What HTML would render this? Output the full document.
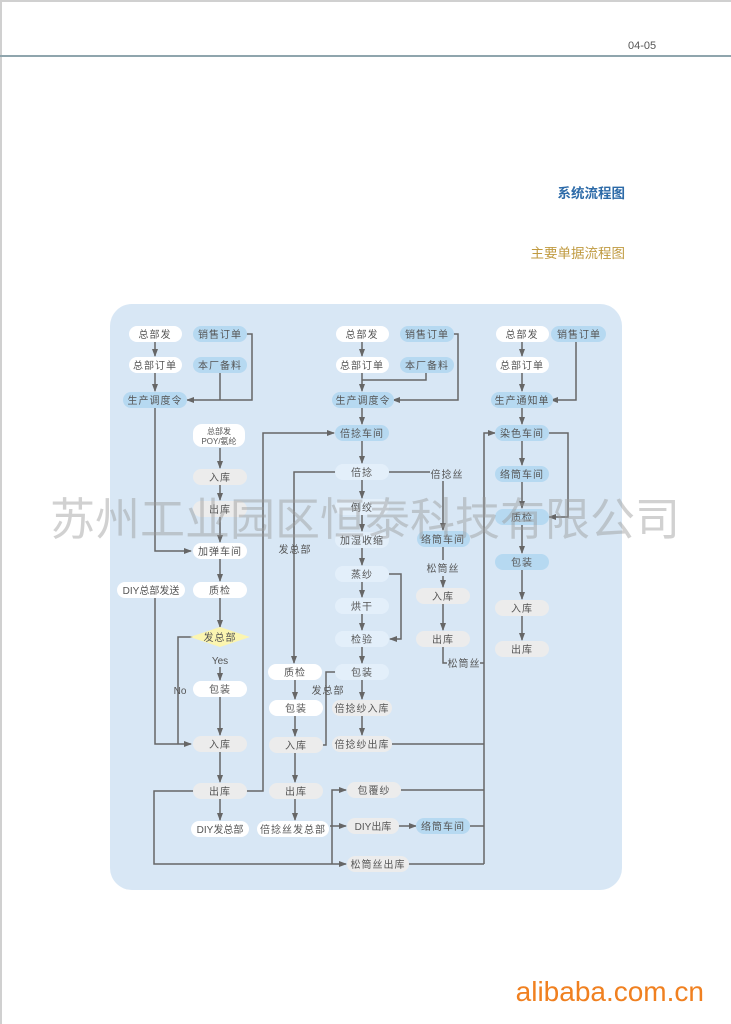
<!DOCTYPE html>
<html><head><meta charset="utf-8"><style>
html,body{margin:0;padding:0;background:#fff;width:731px;height:1024px;overflow:hidden}
svg{display:block}
text{font-family:"Liberation Sans","Noto Sans CJK SC",sans-serif}
</style></head><body>
<svg width="731" height="1024" viewBox="0 0 731 1024" xmlns="http://www.w3.org/2000/svg">
<defs>
<marker id="a" markerWidth="8" markerHeight="6" refX="7" refY="3" orient="auto" markerUnits="userSpaceOnUse"><path d="M0,0 L8,3 L0,6 z" fill="#666"/></marker>
</defs>
<rect x="0" y="0" width="731" height="2" fill="#d0d0d0"/>
<rect x="0" y="0" width="2" height="1024" fill="#d0d0d0"/>
<rect x="0" y="55" width="731" height="2" fill="#8fa5ad"/>
<text x="628" y="49" font-size="11" fill="#555">04-05</text>
<text x="625" y="198" font-size="13.5" font-weight="bold" fill="#2c6aa8" text-anchor="end">系统流程图</text>
<text x="625" y="258" font-size="13.5" fill="#c09a40" text-anchor="end">主要单据流程图</text>
<text x="704" y="1001" font-size="28" fill="#f08020" text-anchor="end">alibaba.com.cn</text>

<rect x="110" y="304" width="512" height="586" rx="22" fill="#d8e7f5"/>

<g stroke="#666" stroke-width="1.5" fill="none">
<line x1="155" y1="342" x2="155" y2="356" marker-end="url(#a)"/>
<line x1="155" y1="373" x2="155" y2="391" marker-end="url(#a)"/>
<polyline points="246,334 252,334 252,400 187,400" marker-end="url(#a)"/>
<line x1="220" y1="373" x2="220" y2="400"/>
<polyline points="155,408 155,551 191,551" marker-end="url(#a)"/>
<line x1="220" y1="448" x2="220" y2="468" marker-end="url(#a)"/>
<line x1="220" y1="485" x2="220" y2="500" marker-end="url(#a)"/>
<line x1="220" y1="517" x2="220" y2="542" marker-end="url(#a)"/>
<line x1="220" y1="559" x2="220" y2="581" marker-end="url(#a)"/>
<line x1="220" y1="598" x2="220" y2="627" marker-end="url(#a)"/>
<line x1="220" y1="667" x2="220" y2="680" marker-end="url(#a)"/>
<line x1="220" y1="697" x2="220" y2="735" marker-end="url(#a)"/>
<line x1="220" y1="752" x2="220" y2="782" marker-end="url(#a)"/>
<line x1="220" y1="799" x2="220" y2="820" marker-end="url(#a)"/>
<polyline points="155,598 155,744 191,744" marker-end="url(#a)"/>
<polyline points="193,637 178,637 178,744"/>
<polyline points="246,791 263,791 263,433 334,433" marker-end="url(#a)"/>
<polyline points="194,791 154,791 154,864 346,864" marker-end="url(#a)"/>
<polyline points="336,472 294,472 294,663" marker-end="url(#a)"/>
<line x1="295" y1="680" x2="295" y2="699" marker-end="url(#a)"/>
<line x1="295" y1="716" x2="295" y2="736" marker-end="url(#a)"/>
<line x1="295" y1="753" x2="295" y2="782" marker-end="url(#a)"/>
<line x1="295" y1="799" x2="295" y2="820" marker-end="url(#a)"/>
<polyline points="336,672 326,672 326,745 322,745"/>
<polyline points="332,864 332,790 346,790" marker-end="url(#a)"/>
<line x1="330" y1="826" x2="346" y2="826" marker-end="url(#a)"/>
<line x1="362" y1="342" x2="362" y2="356" marker-end="url(#a)"/>
<line x1="362" y1="373" x2="362" y2="391" marker-end="url(#a)"/>
<polyline points="426,373 426,380 362,380"/>
<polyline points="452,334 458,334 458,400 393,400" marker-end="url(#a)"/>
<line x1="362" y1="408" x2="362" y2="424" marker-end="url(#a)"/>
<line x1="362" y1="441" x2="362" y2="463" marker-end="url(#a)"/>
<line x1="362" y1="480" x2="362" y2="498" marker-end="url(#a)"/>
<line x1="362" y1="515" x2="362" y2="531" marker-end="url(#a)"/>
<line x1="362" y1="548" x2="362" y2="565" marker-end="url(#a)"/>
<line x1="362" y1="582" x2="362" y2="597" marker-end="url(#a)"/>
<line x1="362" y1="614" x2="362" y2="630" marker-end="url(#a)"/>
<line x1="362" y1="647" x2="362" y2="663" marker-end="url(#a)"/>
<line x1="362" y1="680" x2="362" y2="699" marker-end="url(#a)"/>
<line x1="362" y1="716" x2="362" y2="735" marker-end="url(#a)"/>
<polyline points="389,574 401,574 401,639 390,639" marker-end="url(#a)"/>
<line x1="389" y1="472" x2="430" y2="472"/>
<line x1="443" y1="481" x2="443" y2="530" marker-end="url(#a)"/>
<line x1="443" y1="547" x2="443" y2="560"/>
<line x1="443" y1="576" x2="443" y2="587" marker-end="url(#a)"/>
<line x1="443" y1="604" x2="443" y2="630" marker-end="url(#a)"/>
<polyline points="443,647 443,663 447,663"/>
<line x1="480" y1="663" x2="484" y2="663"/>
<line x1="392" y1="744" x2="484" y2="744"/>
<line x1="400" y1="790" x2="484" y2="790"/>
<line x1="396" y1="826" x2="416" y2="826" marker-end="url(#a)"/>
<line x1="470" y1="826" x2="484" y2="826"/>
<line x1="408" y1="864" x2="484" y2="864"/>
<polyline points="484,864 484,433 495,433" marker-end="url(#a)"/>
<line x1="522" y1="342" x2="522" y2="356" marker-end="url(#a)"/>
<line x1="522" y1="373" x2="522" y2="391" marker-end="url(#a)"/>
<polyline points="576,342 576,400 551,400" marker-end="url(#a)"/>
<line x1="522" y1="408" x2="522" y2="424" marker-end="url(#a)"/>
<line x1="522" y1="441" x2="522" y2="465" marker-end="url(#a)"/>
<line x1="522" y1="482" x2="522" y2="508" marker-end="url(#a)"/>
<polyline points="548,433 568,433 568,517 549,517" marker-end="url(#a)"/>
<line x1="522" y1="525" x2="522" y2="553" marker-end="url(#a)"/>
<line x1="522" y1="570" x2="522" y2="599" marker-end="url(#a)"/>
<line x1="522" y1="616" x2="522" y2="640" marker-end="url(#a)"/>
</g>

<g font-size="10" text-anchor="middle" fill="#555" letter-spacing="1">
<g fill="#fff"><rect x="129" y="326" width="53" height="16" rx="8"/><rect x="129" y="357" width="53" height="16" rx="8"/>
<rect x="193" y="424" width="52" height="23" rx="9"/><rect x="193" y="543" width="54" height="16" rx="8"/>
<rect x="117" y="582" width="68" height="16" rx="8"/><rect x="193" y="582" width="54" height="16" rx="8"/>
<rect x="193" y="681" width="54" height="16" rx="8"/><rect x="191" y="821" width="58" height="16" rx="8"/>
<rect x="268" y="664" width="54" height="16" rx="8"/><rect x="269" y="700" width="54" height="16" rx="8"/>
<rect x="257" y="821" width="72" height="16" rx="8"/>
<rect x="336" y="326" width="53" height="16" rx="8"/><rect x="336" y="357" width="53" height="16" rx="8"/>
<rect x="496" y="326" width="53" height="16" rx="8"/><rect x="496" y="357" width="53" height="16" rx="8"/></g>
<g fill="#b6d9f1"><rect x="193" y="326" width="54" height="16" rx="8"/><rect x="193" y="357" width="54" height="16" rx="8"/>
<rect x="123" y="392" width="64" height="16" rx="8"/>
<rect x="400" y="326" width="54" height="16" rx="8"/><rect x="400" y="357" width="54" height="16" rx="8"/>
<rect x="332" y="392" width="62" height="16" rx="8"/><rect x="335" y="425" width="54" height="16" rx="8"/>
<rect x="417" y="531" width="53" height="16" rx="8"/><rect x="416" y="818" width="54" height="16" rx="8"/>
<rect x="551" y="326" width="55" height="16" rx="8"/><rect x="491" y="392" width="62" height="16" rx="8"/>
<rect x="495" y="425" width="54" height="16" rx="8"/><rect x="495" y="466" width="54" height="16" rx="8"/>
<rect x="495" y="509" width="54" height="16" rx="8"/><rect x="495" y="554" width="54" height="16" rx="8"/></g>
<g fill="#e3effa"><rect x="335" y="464" width="54" height="16" rx="8"/><rect x="335" y="499" width="54" height="16" rx="8"/>
<rect x="335" y="532" width="54" height="16" rx="8"/><rect x="335" y="566" width="54" height="16" rx="8"/>
<rect x="335" y="598" width="54" height="16" rx="8"/><rect x="335" y="631" width="54" height="16" rx="8"/>
<rect x="335" y="664" width="54" height="16" rx="8"/></g>
<g fill="#ececec"><rect x="193" y="469" width="54" height="16" rx="8"/><rect x="193" y="501" width="54" height="16" rx="8"/>
<rect x="193" y="736" width="54" height="16" rx="8"/><rect x="193" y="783" width="54" height="16" rx="8"/>
<rect x="269" y="737" width="54" height="16" rx="8"/><rect x="269" y="783" width="54" height="16" rx="8"/>
<rect x="332" y="700" width="60" height="16" rx="8"/><rect x="332" y="736" width="60" height="16" rx="8"/>
<rect x="347" y="782" width="54" height="16" rx="8"/><rect x="347" y="818" width="52" height="16" rx="8"/>
<rect x="347" y="856" width="62" height="16" rx="8"/>
<rect x="416" y="588" width="54" height="16" rx="8"/><rect x="416" y="631" width="54" height="16" rx="8"/>
<rect x="495" y="600" width="54" height="16" rx="8"/><rect x="495" y="641" width="54" height="16" rx="8"/></g>
<polygon points="220,627 250,637 220,647 190,637" fill="#fbf5b0"/>

<text x="155" y="338">总部发</text><text x="220" y="338">销售订单</text>
<text x="155" y="369">总部订单</text><text x="220" y="369">本厂备料</text>
<text x="155" y="404">生产调度令</text>
<text x="219" y="434" font-size="8" letter-spacing="0">总部发</text><text x="219" y="444" font-size="8" letter-spacing="0">POY/氨纶</text>
<text x="220" y="481">入库</text><text x="220" y="513">出库</text><text x="220" y="555">加弹车间</text>
<text x="151" y="594" letter-spacing="0">DIY总部发送</text><text x="220" y="594">质检</text>
<text x="220" y="641">发总部</text><text x="220" y="664" letter-spacing="0">Yes</text>
<text x="180" y="694" letter-spacing="0">No</text>
<text x="220" y="693">包装</text><text x="220" y="748">入库</text><text x="220" y="795">出库</text>
<text x="220" y="833" letter-spacing="0">DIY发总部</text>
<text x="295" y="553">发总部</text>
<text x="295" y="676">质检</text><text x="296" y="712">包装</text><text x="296" y="749">入库</text>
<text x="296" y="795">出库</text><text x="293" y="833">倍捻丝发总部</text>
<text x="328" y="694">发总部</text>
<text x="362" y="338">总部发</text><text x="427" y="338">销售订单</text>
<text x="362" y="369">总部订单</text><text x="427" y="369">本厂备料</text>
<text x="363" y="404">生产调度令</text><text x="362" y="437">倍捻车间</text>
<text x="362" y="476">倍捻</text><text x="447" y="478">倍捻丝</text>
<text x="362" y="511">倒绞</text><text x="362" y="544">加湿收缩</text>
<text x="443" y="543">络筒车间</text><text x="362" y="578">蒸纱</text>
<text x="443" y="572">松筒丝</text><text x="362" y="610">烘干</text>
<text x="443" y="600">入库</text><text x="362" y="643">检验</text>
<text x="443" y="643">出库</text><text x="464" y="667">松筒丝</text>
<text x="362" y="676">包装</text><text x="362" y="712">倍捻纱入库</text><text x="362" y="748">倍捻纱出库</text>
<text x="374" y="794">包覆纱</text><text x="373" y="830" letter-spacing="0">DIY出库</text>
<text x="443" y="830">络筒车间</text><text x="378" y="868">松筒丝出库</text>
<text x="522" y="338">总部发</text><text x="579" y="338">销售订单</text>
<text x="522" y="369">总部订单</text><text x="522" y="404">生产通知单</text>
<text x="522" y="437">染色车间</text><text x="522" y="478">络筒车间</text>
<text x="522" y="521">质检</text><text x="522" y="566">包装</text>
<text x="522" y="612">入库</text><text x="522" y="653">出库</text>
</g>

<text x="365" y="535" font-size="45" text-anchor="middle" fill="#999" fill-opacity="0.45" font-family="'Liberation Serif','Noto Serif CJK SC',serif">苏州工业园区恒泰科技有限公司</text>
</svg>
</body></html>
